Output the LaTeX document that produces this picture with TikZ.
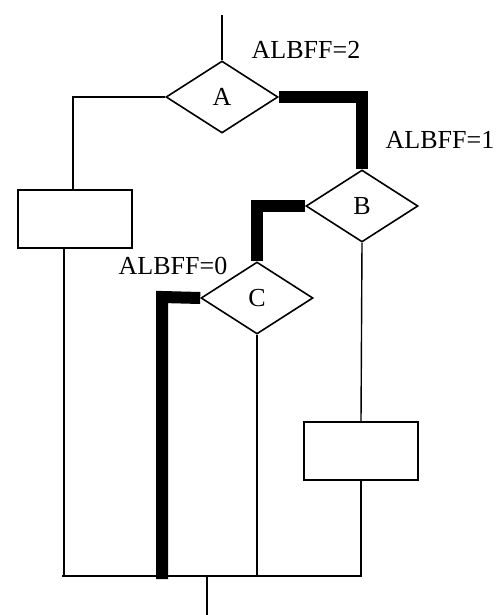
\documentclass[tikz,border=0pt]{standalone}
\usepackage{fontspec}
\setmainfont{Liberation Serif}
\usetikzlibrary{shapes.geometric}
\begin{document}
\begin{tikzpicture}[x=0.5pt,y=-0.5pt,
    font=\fontsize{13}{15}\selectfont,
    test/.style={diamond,draw,line width=0.8pt,minimum width=56pt,minimum height=36pt,inner sep=0pt},
    block/.style={draw,line width=1pt,minimum width=57pt,minimum height=29pt,inner sep=0pt},
    wire/.style={line width=0.7pt},
    taken/.style={line width=6pt,line join=miter}]
  \useasboundingbox (0,0) rectangle (499,615);
  \draw
    (222,97) node[test] (A){A}
    (362,206) node[test] (B){B}
    (257,298) node[test] (C){C}
    (75,219) node[block] (boxL){}
    (361,451) node[block] (boxR){};
  \draw
    (306,50) node (l2){ALBFF=2}
    (440,140) node (l1){ALBFF=1}
    (173,266) node (l0){ALBFF=0};
  \coordinate (in) at (222,15);
  \coordinate (out) at (207,615);
  \coordinate (busL) at (62,576);
  \coordinate (busR) at (362,576);
  \begin{scope}[wire]
    \draw (in) to (A.north);
    \draw (A.west) -- (73,97) -- (boxL.north -| 73,0);
    \draw (boxL.south -| 64,0) -- (64,576);
    \draw (C.south) -- (C.south |- busL);
    \draw (B.south) -- (boxR.north);
    \draw (boxR.south) -- (boxR.south |- busL);
    \draw (busL) -- (busR);
    \draw (207,576) -- (out);
  \end{scope}
  \begin{scope}[taken]
    \draw (A.east) -- (B.north |- A.east) -- (B.north);
    \draw (B.west) -- (C.north |- B.west) -- (C.north);
    \draw (C.west) -- (162,297) -- (162,579);
  \end{scope}
\end{tikzpicture}
\end{document}
